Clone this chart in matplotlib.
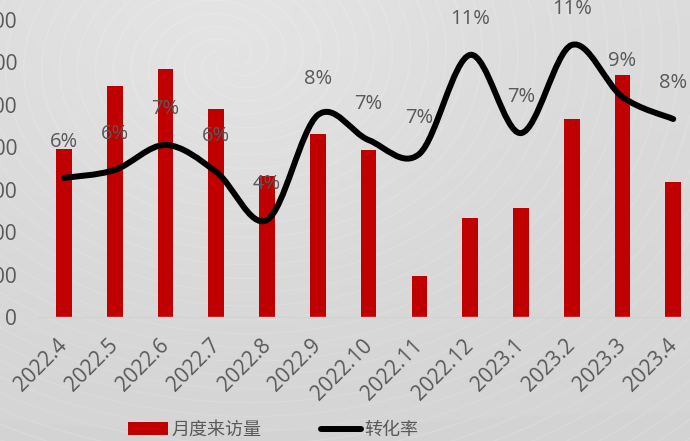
import numpy as np
import matplotlib.pyplot as plt
import matplotlib.transforms as mtransforms
from matplotlib.path import Path
from matplotlib.patches import PathPatch, Patch
from matplotlib.lines import Line2D

plt.rcParams['font.family'] = ['Open Sans', 'Noto Sans CJK SC', 'DejaVu Sans']

months = ['2022.4', '2022.5', '2022.6', '2022.7', '2022.8', '2022.9', '2022.10',
          '2022.11', '2022.12', '2023.1', '2023.2', '2023.3', '2023.4']
visits = [1980, 2725, 2925, 2450, 1665, 2160, 1970, 485, 1165, 1285, 2335, 2855, 1590]
rate = [5.62, 5.94, 6.95, 5.86, 3.92, 8.16, 7.15, 6.59, 10.59, 7.43, 10.99, 8.89, 8.0]
yticks = [0, 500, 1000, 1500, 2000, 2500, 3000, 3500]

grey = '#595959'
red = '#C00000'

fig = plt.figure(figsize=(6.9, 4.41), dpi=100)

# soft grey backdrop with faint light streaks
bg = fig.add_axes([0, 0, 1, 1], zorder=-10)
h, w = 441, 690
yy, xx = np.mgrid[0:h, 0:w]
r = np.hypot(xx - 230, (yy - 60) * 1.3)
th = np.arctan2(yy - 60, xx - 230)
streak = (0.5 + 0.5 * np.cos(r * 0.35 + th * 5.0)) ** 60
base = 0.86 - 0.03 * (yy / h) + 0.03 * np.exp(-((xx - 230) ** 2 + (yy - 40) ** 2) / 50000)
img = np.clip(base + 0.018 * streak, 0, 1)
bg.imshow(img, cmap='gray', vmin=0, vmax=1, aspect='auto', interpolation='bilinear')
bg.axis('off')

ax = fig.add_axes([38.6 / 690, 124 / 441, 660 / 690, 297 / 441])
ax.patch.set_alpha(0)
x = np.arange(len(months))
ax.bar(x, visits, width=0.31, color=red, zorder=2)
ax.set_xlim(-0.5, len(months) - 0.5)
ax.set_ylim(0, 3500)
ax.set_yticks(yticks)
ax.set_yticklabels([str(v) for v in yticks])
ax.set_xticks(x)
ax.set_xticklabels(months, rotation=45, ha='right', rotation_mode='anchor')
ax.tick_params(axis='y', length=0, pad=15.5, labelsize=15, labelcolor=grey)
ax.tick_params(axis='x', length=0, pad=8, labelsize=15, labelcolor=grey)
shift = mtransforms.ScaledTranslation(-0.07, -0.07, fig.dpi_scale_trans)
for lab in ax.get_xticklabels():
    lab.set_transform(lab.get_transform() + shift)
for s in ['top', 'right', 'left']:
    ax.spines[s].set_visible(False)
ax.spines['bottom'].set_color('#d2d2d2')
ax.spines['bottom'].set_linewidth(1.0)

# conversion rate on a hidden secondary axis, drawn as a smoothed curve
ax2 = ax.twinx()
ax2.set_ylim(0, 12)
ax2.axis('off')
pts = np.column_stack([x, rate])
verts = [tuple(pts[0])]
codes = [Path.MOVETO]
n = len(pts)
for i in range(n - 1):
    p0 = pts[max(i - 1, 0)]
    p1 = pts[i]
    p2 = pts[i + 1]
    p3 = pts[min(i + 2, n - 1)]
    c1 = p1 + (p2 - p0) / 6
    c2 = p2 - (p3 - p1) / 6
    verts += [tuple(c1), tuple(c2), tuple(p2)]
    codes += [Path.CURVE4] * 3
ax2.add_patch(PathPatch(Path(verts, codes), fill=False, edgecolor='black',
                        lw=4.3, capstyle='round', joinstyle='round', zorder=3))
for xi, v in zip(x, rate):
    ax2.annotate(f'{v:.0f}%', (xi, v), xytext=(0, 26), textcoords='offset points',
                 ha='center', va='center', fontsize=14.5, color=grey, zorder=4)

handles = [Patch(facecolor=red, edgecolor='none'),
           Line2D([0], [0], color='black', lw=4.3, solid_capstyle='round')]
fig.legend(handles, ['月度来访量', '转化率'], loc='center', ncol=2,
           bbox_to_anchor=(273 / 690, 11 / 441), frameon=False, fontsize=13,
           labelcolor=grey, handlelength=2.2, handleheight=0.7,
           handletextpad=0.2, columnspacing=3.3)

fig.savefig('out.png', dpi=100)
